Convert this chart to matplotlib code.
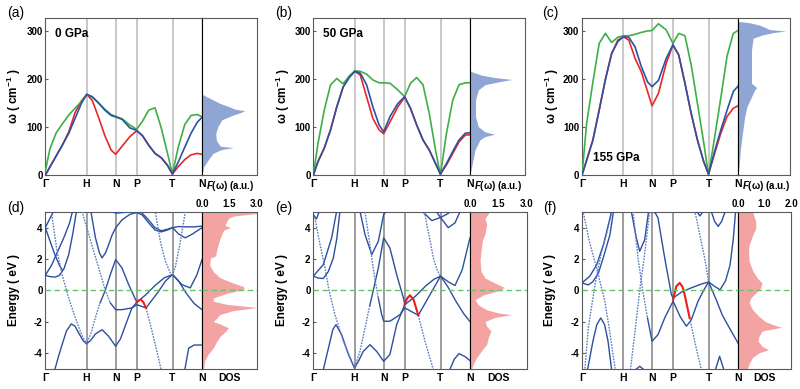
import matplotlib.pyplot as plt

plt.rcParams['font.family'] = ['Liberation Sans', 'DejaVu Sans']
plt.rcParams['mathtext.fontset'] = 'custom'
plt.rcParams['mathtext.rm'] = 'Liberation Sans:bold'
plt.rcParams['mathtext.it'] = 'Liberation Sans:italic:bold'
plt.rcParams['mathtext.bf'] = 'Liberation Sans:bold'

# ---------------- data ----------------
k_ticks = [0, 0.263, 0.449, 0.584, 0.812, 1.0]
k_labels = ['Γ', 'H', 'N', 'P', 'T', 'N']
pressures = ['0 GPa', '50 GPa', '155 GPa']

# phonon path grid
k_ph = [0, 0.03, 0.07, 0.11, 0.15, 0.19, 0.23, 0.265, 0.30, 0.34, 0.38, 0.42, 0.449,
        0.49, 0.54, 0.583, 0.62, 0.66, 0.70, 0.74, 0.78, 0.811, 0.85, 0.89, 0.93, 0.97, 1.0]

# 0 GPa (cm^-1)
a_blue = [0, 17, 40, 63, 87, 118, 149, 168, 163, 150, 135, 124, 121,
          116, 98, 93, 82, 62, 45, 36, 20, 2, 28, 58, 87, 110, 120]
a_red = [0, 17, 40, 63, 90, 130, 154, 168, 155, 120, 82, 52, 43,
         60, 80, 92, 82, 62, 45, 36, 20, 2, 18, 32, 42, 45, 43]
a_green = [8, 55, 88, 107, 125, 139, 153, 168, 162, 150, 137, 126, 122,
           117, 104, 95, 112, 135, 140, 98, 45, 2, 60, 105, 124, 126, 121]
# 50 GPa
b_blue = [0, 28, 56, 94, 142, 183, 203, 216, 212, 188, 142, 104, 90,
          122, 149, 163, 139, 104, 73, 52, 24, 2, 24, 49, 73, 87, 88]
b_red = [0, 28, 56, 94, 142, 183, 206, 216, 208, 163, 118, 94, 86,
         111, 142, 162, 139, 104, 73, 52, 24, 2, 21, 45, 69, 83, 84]
b_green = [0, 66, 135, 188, 201, 190, 206, 217, 216, 210, 198, 192, 192,
           191, 177, 163, 191, 203, 188, 128, 52, 0, 87, 156, 188, 192, 192]
# 155 GPa
c_blue = [0, 31, 73, 135, 199, 253, 278, 288, 287, 267, 226, 194, 184,
          197, 243, 271, 250, 191, 128, 73, 28, 2, 49, 94, 135, 174, 185]
c_red = [0, 31, 73, 135, 199, 253, 281, 288, 281, 243, 215, 174, 144,
         170, 233, 271, 250, 191, 128, 73, 28, 2, 45, 87, 122, 139, 144]
c_green = [0, 108, 194, 274, 295, 276, 287, 290, 290, 293, 297, 300, 301,
           315, 302, 274, 295, 290, 229, 149, 68, 0, 78, 161, 248, 295, 301]

# phonon DOS F(w): frequency, weight
a_dos_w = [0, 10, 17, 31, 45, 53, 57, 60, 73, 87, 101, 115, 125, 130, 134, 137, 142, 149, 160, 167, 170]
a_dos_f = [0, 0.02, 0.03, 0.11, 0.2, 0.35, 0.57, 0.33, 0.26, 0.25, 0.29, 0.36, 0.57, 0.7, 0.78,
           0.6, 0.5, 0.33, 0.14, 0.02, 0]
b_dos_w = [0, 17, 52, 73, 80, 85, 90, 101, 122, 156, 177, 188, 194, 199, 203, 208, 215, 218]
b_dos_f = [0, 0.03, 0.09, 0.18, 0.27, 0.45, 0.27, 0.15, 0.1, 0.1, 0.15, 0.27, 0.52, 0.76, 0.45,
           0.21, 0.03, 0]
c_dos_w = [0, 17, 52, 87, 122, 142, 156, 177, 182, 191, 226, 260, 285, 292, 297, 300, 303, 306,
           312, 317, 320]
c_dos_f = [0, 0.02, 0.045, 0.085, 0.13, 0.17, 0.23, 0.32, 0.36, 0.26, 0.26, 0.26, 0.29, 0.48,
           0.7, 0.92, 0.6, 0.55, 0.42, 0.23, 0]

# electronic bands (k, E in eV)
d_solid = [
    [(0, 4.0), (0.03, 4.6), (0.06, 5.2)],
    [(0, 4.0), (0.03, 3.15), (0.06, 2.3), (0.09, 1.6), (0.11, 1.25)],
    [(0, 0.95), (0.03, 0.87), (0.064, 0.84), (0.09, 0.95), (0.12, 1.4), (0.15, 2.3), (0.175, 3.6), (0.2, 5.1)],
    [(0, 0.95), (0.04, 1.6), (0.08, 2.5), (0.12, 3.4), (0.155, 4.3), (0.175, 5.1)],
    [(0.06, -5.1), (0.085, -4.2), (0.107, -3.48), (0.135, -2.6), (0.166, -2.15), (0.19, -2.3),
     (0.213, -2.73), (0.24, -3.2), (0.263, -3.43), (0.29, -3.2), (0.319, -2.8), (0.362, -2.52),
     (0.404, -2.94), (0.449, -3.58), (0.48, -3.1), (0.521, -1.98), (0.553, -1.13), (0.584, -0.77)],
    [(0.35, -0.8), (0.383, 0), (0.415, 1.0), (0.449, 1.96), (0.489, 1.43), (0.532, 0.36), (0.584, -0.77),
     (0.64, -0.3), (0.70, 0.3), (0.76, 0.8), (0.812, 1.0), (0.85, 0.6), (0.9, -0.2), (0.95, -0.85), (1.0, -1.24)],
    [(0.415, -0.81), (0.449, -1.24), (0.489, -1.24), (0.553, -1.13), (0.584, -0.92), (0.643, -1.13),
     (0.724, -0.06), (0.766, 0.58), (0.812, 1.0), (0.872, 0.36), (0.925, 0.15), (0.968, 1.0), (1.0, 1.96)],
    [(0.29, 5.1), (0.32, 3.35), (0.345, 2.4), (0.362, 2.07), (0.385, 2.4), (0.404, 2.9), (0.425, 3.5),
     (0.449, 3.99), (0.49, 4.5), (0.54, 4.85), (0.584, 4.97), (0.62, 4.8), (0.66, 4.3), (0.70, 3.85),
     (0.74, 3.73), (0.78, 3.85), (0.812, 4.0), (0.85, 4.07), (0.9, 4.05), (0.95, 4.05), (1.0, 4.1)],
    [(0.6, 5.1), (0.65, 4.6), (0.7, 4.0), (0.74, 3.8), (0.78, 3.9), (0.812, 4.0), (0.85, 3.6),
     (0.893, 3.35), (0.94, 3.6), (1.0, 4.0)],
    [(0.41, 5.1), (0.449, 4.93), (0.50, 4.97), (0.55, 5.1)],
    [(0.89, -5.1), (0.915, -3.7), (0.95, -3.5), (1.0, -3.5)],
]
d_light = [
    [(0.038, 5.05), (0.075, 2.49), (0.107, 1.0), (0.149, -0.49), (0.192, -1.77), (0.23, -2.8),
     (0.263, -3.43), (0.29, -2.8), (0.319, -1.77), (0.35, -0.8)],
    [(0.234, 5.05), (0.309, 2.49), (0.383, 0), (0.415, -0.81)],
    [(0.643, -1.13), (0.692, -3.05), (0.74, -5.1)],
    [(0.69, 5.1), (0.702, 5.0), (0.734, 3.13), (0.766, 1.86), (0.798, 1.1), (0.812, 1.0), (0.83, 1.5),
     (0.86, 3.0), (0.885, 4.5), (0.895, 5.1)],
]
d_red = [(0.584, -0.77), (0.6, -0.63), (0.61, -0.6), (0.625, -0.75), (0.643, -1.13)]

e_solid = [
    [(0, 4.84), (0.02, 4.55), (0.04, 5.1)],
    [(0, 0.9), (0.032, 0.78), (0.064, 0.75), (0.096, 1.2), (0.128, 2.07), (0.15, 3.3), (0.17, 5.05)],
    [(0, 0.9), (0.064, 1.64), (0.117, 3.35), (0.149, 5.05)],
    [(0.064, -5.07), (0.107, -3.26), (0.125, -2.5), (0.145, -2.2), (0.181, -2.84), (0.224, -4.1),
     (0.263, -4.97), (0.29, -4.5), (0.319, -3.9), (0.362, -3.48), (0.404, -3.9), (0.449, -4.54),
     (0.489, -4.1), (0.532, -2.2), (0.575, -1.13), (0.584, -0.87)],
    [(0.36, -1.0), (0.383, 0), (0.415, 1.43), (0.449, 3.35), (0.489, 2.7), (0.532, 1.0), (0.575, -0.49),
     (0.584, -0.92), (0.65, -0.4), (0.72, 0.3), (0.77, 0.7), (0.812, 0.9), (0.86, 0.2), (0.91, -0.7),
     (0.96, -1.5), (1.0, -2.0)],
    [(0.415, -0.5), (0.435, -1.5), (0.449, -1.98), (0.489, -1.98), (0.553, -1.56), (0.584, -1.13),
     (0.67, -1.6), (0.745, -0.28), (0.812, 0.9), (0.86, 0.55), (0.904, 0.3), (0.95, 1.3), (1.0, 3.35)],
    [(0.298, 5.05), (0.33, 3.56), (0.373, 2.28), (0.415, 3.13), (0.449, 4.84), (0.47, 5.1)],
    [(0.70, 5.0), (0.756, 4.45), (0.812, 4.65), (0.86, 4.9), (0.88, 5.1)],
    [(0.78, 5.1), (0.812, 4.65), (0.861, 4.0), (0.904, 4.3), (0.94, 5.1)],
    [(0.87, -5.1), (0.9, -4.4), (0.93, -4.05), (0.97, -4.25), (1.0, -4.5)],
]
e_light = [
    [(0.01, 4.63), (0.043, 2.92), (0.075, 1.43), (0.1, 0), (0.138, -1.56), (0.192, -3.26),
     (0.263, -4.97), (0.298, -3.9), (0.33, -2.4), (0.36, -1.0)],
    [(0.33, 5.0), (0.36, 3.0), (0.39, 0.9), (0.415, -0.5)],
    [(0.67, -1.6), (0.713, -3.26), (0.766, -5.07)],
    [(0.71, 5.0), (0.724, 4.2), (0.745, 3.2), (0.766, 2.07), (0.79, 1.3), (0.812, 0.9)],
]
e_red = [(0.584, -0.87), (0.60, -0.5), (0.617, -0.32), (0.64, -0.6), (0.67, -1.6)]

f_solid = [
    [(0, 0.47), (0.04, 0.34), (0.07, 0.55), (0.105, 1.09), (0.14, 2.2), (0.179, 3.54), (0.2, 4.93), (0.205, 5.1)],
    [(0, 0.47), (0.05, 0.9), (0.094, 1.62), (0.14, 3.0), (0.179, 4.6), (0.19, 5.1)],
    [(0.035, -5.1), (0.07, -3.26), (0.095, -2.2), (0.12, -1.77), (0.145, -2.2), (0.167, -3.26), (0.19, -5.1)],
    [(0.34, -5.1), (0.37, -4.86), (0.40, -5.1)],
    [(0.42, -1.77), (0.449, -3.26), (0.487, -2.84), (0.53, -1.77), (0.584, -0.7), (0.63, -1.7),
     (0.669, -2.3), (0.70, -1.9), (0.744, -0.7), (0.78, 0.0), (0.812, 0.53), (0.85, 0.25), (0.885, 0.03),
     (0.92, 0.6), (0.949, 1.6), (0.97, 3.3), (0.985, 5.1)],
    [(0.46, 5.1), (0.487, 4.63), (0.53, 2.07), (0.573, -0.28), (0.584, -0.5), (0.64, -0.1), (0.70, 0.15),
     (0.76, 0.38), (0.812, 0.53), (0.86, -0.6), (0.9, -1.6), (0.95, -2.5), (1.0, -3.37)],
    [(0.316, 5.05), (0.348, 3.35), (0.37, 2.49), (0.402, 3.24), (0.427, 5.05)],
    [(0.83, 5.0), (0.85, 4.4), (0.873, 4.08), (0.895, 4.4), (0.917, 5.0)],
    [(0.73, 5.1), (0.756, 4.75), (0.78, 5.1)],
    [(0.855, -5.1), (0.882, -4.22), (0.91, -5.1)],
]
f_light = [
    [(0.009, 4.93), (0.05, 3.0), (0.094, 1.41), (0.147, -0.73), (0.18, -2.8), (0.212, -5.0)],
    [(0.019, -5.0), (0.04, -2.44), (0.083, 0.34), (0.126, 2.48), (0.16, 3.7), (0.19, 4.93)],
    [(0.31, -5.1), (0.34, -2.6), (0.37, 0.0), (0.40, 2.2), (0.434, 5.05)],
    [(0.327, 5.05), (0.359, 2.07), (0.39, -0.06), (0.42, -1.77)],
    [(0.69, -1.77), (0.73, -3.6), (0.765, -5.07)],
    [(0.72, 5.1), (0.733, 4.63), (0.76, 3.3), (0.786, 2.07), (0.812, 0.53)],
]
f_red = [(0.584, -0.6), (0.605, 0.26), (0.626, 0.47), (0.645, 0.2), (0.658, -0.28), (0.69, -1.77)]

# electronic DOS: energy, states
d_dos_e = [5.0, 4.9, 4.75, 4.6, 4.4, 4.15, 4.0, 3.85, 3.7, 3.3, 2.9, 2.5, 2.2, 2.05, 1.6, 1.2, 0.8, 0.46,
           0.24, 0.1, 0.0, -0.2, -0.5, -0.7, -0.9, -1.05, -1.1, -1.2, -1.3, -1.55, -1.8, -2.0, -2.15,
           -2.4, -2.6, -2.95, -3.3, -3.7, -4.1, -4.5, -5.0]
d_dos_n = [3.0, 3.0, 1.75, 1.45, 1.35, 1.25, 1.55, 1.2, 1.12, 0.98, 0.88, 0.79, 0.75, 0.46, 0.42, 0.61,
           0.98, 1.71, 2.26, 2.3, 2.09, 1.35, 0.61, 0.61, 1.35, 2.6, 3.0, 2.4, 1.71, 0.98, 0.79, 0.61,
           0.98, 1.44, 1.31, 0.98, 0.79, 0.61, 0.33, 0.15, 0.09]
e_dos_e = [5.0, 4.9, 4.6, 4.2, 3.6, 3.2, 2.5, 1.9, 1.2, 0.78, 0.46, 0.18, -0.03, -0.3, -0.6, -0.93,
           -1.25, -1.45, -1.56, -1.73, -2.0, -2.3, -2.6, -3.0, -3.45, -3.85, -4.3, -4.7, -5.0]
e_dos_n = [0.97, 0.97, 0.79, 0.88, 0.79, 0.65, 0.58, 0.53, 0.58, 0.79, 1.32, 1.82, 1.5, 0.71, 0.26,
           0.44, 0.88, 1.5, 2.2, 1.32, 0.79, 0.88, 1.1, 0.97, 0.88, 0.62, 0.35, 0.18, 0.09]
f_dos_e = [5.0, 4.9, 4.4, 3.96, 3.5, 2.9, 2.5, 1.85, 1.2, 0.78, 0.46, 0.14, -0.18, -0.5, -0.8, -1.24,
           -1.67, -2.0, -2.2, -2.37, -2.6, -2.95, -3.26, -3.58, -3.8, -4.0, -4.3, -4.7, -5.0]
f_dos_n = [0.57, 0.57, 0.67, 0.67, 0.55, 0.42, 0.4, 0.42, 0.57, 0.73, 0.91, 0.85, 0.67, 0.48, 0.42,
           0.55, 0.79, 1.03, 1.33, 1.64, 0.91, 0.79, 0.76, 0.91, 1.15, 0.79, 0.55, 0.42, 0.36]

# ---------------- figure ----------------
W, H = 800, 389
fig = plt.figure(figsize=(W / 100, H / 100), dpi=100)


def add_px(x0, x1, y0, y1):
    return fig.add_axes([x0 / W, 1 - y1 / H, (x1 - x0) / W, (y1 - y0) / H])


RED, GREEN, BLUE = '#e8262b', '#3caf45', '#2b52a3'
BAND = '#2c4f9e'
TICK_FS = 7
frame_col = '#5a5a5a'


def style_frame(ax):
    for s in ax.spines.values():
        s.set_color(frame_col)
        s.set_linewidth(0.8)


top_cols = [(45.3, 202, 257), (313.3, 470, 525), (582, 738, 790)]
ph_data = [(a_red, a_green, a_blue, a_dos_w, a_dos_f),
           (b_red, b_green, b_blue, b_dos_w, b_dos_f),
           (c_red, c_green, c_blue, c_dos_w, c_dos_f)]
top_letters = ['(a)', '(b)', '(c)']
top_letter_x = [7, 275, 542]
ylab_x_top = [14, 283, 552]
press_pos = [(55, 34), (323, 34), (593, 158)]

for i, (x0, xm, x1) in enumerate(top_cols):
    red, green, blue, dw, df = ph_data[i]
    ax = add_px(x0, xm, 18, 175)
    axd = add_px(xm, x1, 18, 175)
    for kt in k_ticks[1:-1]:
        ax.axvline(kt, color='#c8c8c8', lw=1.4, zorder=1)
    ax.plot(k_ph, red, color=RED, lw=1.2, zorder=3)
    ax.plot(k_ph, green, color=GREEN, lw=1.2, zorder=3)
    ax.plot(k_ph, blue, color=BLUE, lw=1.2, zorder=4)
    ax.set_xlim(0, 1)
    ax.set_ylim(0, 327)
    ax.set_xticks(k_ticks)
    ax.set_xticklabels(k_labels, fontsize=TICK_FS + 0.5, fontweight='bold')
    ax.set_yticks([0, 100, 200, 300])
    ax.set_yticklabels(['0', '100', '200', '300'], fontsize=TICK_FS, fontweight='bold')
    ax.tick_params(axis='x', length=0, pad=3)
    ax.tick_params(axis='y', length=2, direction='in', pad=2, color=frame_col)
    style_frame(ax)
    ax.spines['right'].set_color('black')

    axd.fill_betweenx(dw, 0, df, color='#8fa6d5', lw=0)
    axd.set_xlim(0, 1)
    axd.set_ylim(0, 327)
    axd.set_yticks([])
    axd.set_xticks([])
    axd.annotate('$F$(ω) (a.u.)', (0.08, 0), xycoords='axes fraction', xytext=(0, -3),
                 textcoords='offset points', ha='left', va='top', fontsize=TICK_FS, fontweight='bold')
    style_frame(axd)
    axd.spines['left'].set_color('black')

    fig.text(top_letter_x[i] / W, 1 - 13 / H, top_letters[i], fontsize=10, va='center', ha='left')
    fig.text(ylab_x_top[i] / W, 1 - 96 / H, 'ω ( cm$^{-1}$ )', rotation=90, fontsize=8.5,
             fontweight='bold', va='center', ha='center')
    px, py = press_pos[i]
    fig.text(px / W, 1 - py / H, pressures[i], fontsize=8.5, fontweight='bold', va='center', ha='left')

bot_cols = [(45.3, 202, 257), (313.3, 470, 527), (582, 738, 791)]
el_data = [(d_solid, d_light, d_red, d_dos_e, d_dos_n, 3.0, [0, 1.5, 3.0], ['0.0', '1.5', '3.0']),
           (e_solid, e_light, e_red, e_dos_e, e_dos_n, 3.0, [0, 1.5, 3.0], ['0.0', '1.5', '3.0']),
           (f_solid, f_light, f_red, f_dos_e, f_dos_n, 2.0, [0, 1.0, 2.0], ['0.0', '1.0', '2.0'])]
bot_letters = ['(d)', '(e)', '(f)']
bot_letter_x = [7, 275, 543]
ylab_x_bot = [14, 282, 550]

for i, (x0, xm, x1) in enumerate(bot_cols):
    solid, light, redseg, de, dn, dmax, dt, dtl = el_data[i]
    ax = add_px(x0, xm, 212, 368.5)
    axd = add_px(xm, x1, 212, 368.5)
    for kt in k_ticks[1:-1]:
        ax.axvline(kt, color='#8c8c8c', lw=1.2, zorder=1)
    for band in solid:
        ax.plot([p[0] for p in band], [p[1] for p in band], color=BAND, lw=1.0, zorder=3)
    for band in light:
        ax.plot([p[0] for p in band], [p[1] for p in band], color='#5a7cc0', lw=1.0,
                ls=(0, (1.2, 0.9)), zorder=3)
    ax.plot([p[0] for p in redseg], [p[1] for p in redseg], color='#ee1c1c', lw=1.5, zorder=4)
    ax.axhline(0, color='#66c466', lw=1.0, ls=(0, (4, 2.5)), zorder=5)
    ax.set_xlim(0, 1)
    ax.set_ylim(-5, 5)
    ax.set_xticks(k_ticks)
    ax.set_xticklabels(k_labels, fontsize=TICK_FS + 0.5, fontweight='bold')
    ax.set_yticks([-4, -2, 0, 2, 4])
    ax.set_yticklabels(['-4', '-2', '0', '2', '4'], fontsize=TICK_FS, fontweight='bold')
    ax.tick_params(axis='x', length=0, pad=3)
    ax.tick_params(axis='y', length=2, direction='in', pad=2, color=frame_col)
    style_frame(ax)
    ax.spines['right'].set_color('black')

    axd.fill_betweenx(de, 0, dn, color='#f4a3a3', lw=0)
    axd.axhline(0, color='#66c466', lw=1.0, ls=(0, (4, 2.5)), zorder=5)
    axd.set_xlim(0, dmax)
    axd.set_ylim(-5, 5)
    axd.set_yticks([])
    axd.xaxis.tick_top()
    axd.set_xticks(dt)
    axd.set_xticklabels(dtl, fontsize=TICK_FS, fontweight='bold')
    axd.tick_params(axis='x', length=0, pad=2)
    axd.annotate('DOS', (0.5, 0), xycoords='axes fraction', xytext=(0, -3), textcoords='offset points',
                 ha='center', va='top', fontsize=TICK_FS + 0.5, fontweight='bold')
    style_frame(axd)
    axd.spines['left'].set_color('black')

    fig.text(bot_letter_x[i] / W, 1 - 208 / H, bot_letters[i], fontsize=10, va='center', ha='left')
    fig.text(ylab_x_bot[i] / W, 1 - 290 / H, 'Energy ( eV )', rotation=90, fontsize=8.5,
             fontweight='bold', va='center', ha='center')

fig.savefig('out.png', dpi=100)
